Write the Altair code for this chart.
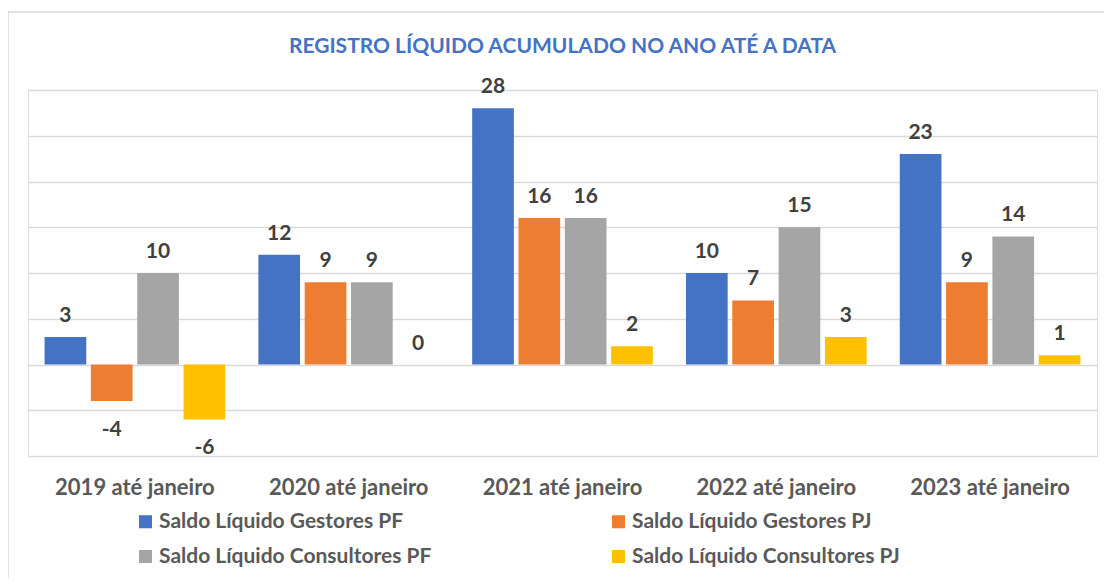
import altair as alt
import pandas as pd

titulo = "REGISTRO LÍQUIDO ACUMULADO NO ANO ATÉ A DATA"
categories = ["2019 até janeiro", "2020 até janeiro", "2021 até janeiro", "2022 até janeiro", "2023 até janeiro"]
series_names = ["Saldo Líquido Gestores PF", "Saldo Líquido Gestores PJ",
                "Saldo Líquido Consultores PF", "Saldo Líquido Consultores PJ"]
gestores_pf = [3, 12, 28, 10, 23]
gestores_pj = [-4, 9, 16, 7, 9]
consultores_pf = [10, 9, 16, 15, 14]
consultores_pj = [-6, 0, 2, 3, 1]
colors = ["#4472C4", "#ED7D31", "#A5A5A5", "#FFC000"]
grid_values = [-10, -5, 0, 5, 10, 15, 20, 25, 30]

rows = []
for s, vals in zip(series_names, [gestores_pf, gestores_pj, consultores_pf, consultores_pj]):
    for c, v in zip(categories, vals):
        rows.append({"categoria": c, "serie": s, "valor": v, "rotulo": str(v)})
df = pd.DataFrame(rows)

FONT = "Lato"

x_enc = alt.X("categoria:N", sort=categories,
              scale=alt.Scale(paddingInner=0.155, paddingOuter=0.0775),
              axis=alt.Axis(title=None, labelAngle=0, labelFontSize=22, labelFontWeight="bold",
                            labelColor="#595959", labelFont=FONT, ticks=False, domain=False,
                            labelPadding=21, grid=False))
xoff_enc = alt.XOffset("serie:N", sort=series_names,
                       scale=alt.Scale(paddingInner=0.1, paddingOuter=0))
y_enc = alt.Y("valor:Q", scale=alt.Scale(domain=[-10, 30], nice=False, zero=True),
              axis=alt.Axis(title=None, labels=False, ticks=False, domain=False,
                            values=grid_values, grid=True, gridColor="#D9D9D9", gridWidth=1.3))

base = alt.Chart(df)

bars = base.mark_bar().encode(
    x=x_enc,
    xOffset=xoff_enc,
    y=y_enc,
    color=alt.Color("serie:N", sort=series_names,
                    scale=alt.Scale(domain=series_names, range=colors),
                    legend=alt.Legend(title=None, orient="none", legendX=107, legendY=421,
                                      direction="horizontal",
                                      columns=2, columnPadding=176, rowPadding=13,
                                      symbolType="square", symbolSize=170, symbolStrokeWidth=0,
                                      labelFontSize=21, labelFontWeight="bold", labelColor="#595959",
                                      labelFont=FONT, labelOffset=3, labelLimit=400,
                                      gridAlign="all")),
)

pos_labels = base.transform_filter("datum.valor >= 0").mark_text(
    fontSize=21, fontWeight="bold", color="#404040", font=FONT, baseline="middle", dy=-21
).encode(x=alt.X("categoria:N", sort=categories), xOffset=alt.XOffset("serie:N", sort=series_names),
         y="valor:Q", text="rotulo:N")

neg_labels = base.transform_filter("datum.valor < 0").mark_text(
    fontSize=21, fontWeight="bold", color="#404040", font=FONT, baseline="middle", dy=29
).encode(x=alt.X("categoria:N", sort=categories), xOffset=alt.XOffset("serie:N", sort=series_names),
         y="valor:Q", text="rotulo:N")

frame = alt.Chart(pd.DataFrame({"k": [0]})).mark_rect(
    fill="transparent", stroke="#D9D9D9", strokeWidth=1.5
).encode(x=alt.value(-20), x2=alt.value(1200), y=alt.value(-78), y2=alt.value(700))

title_mark = alt.Chart(pd.DataFrame({"t": [titulo]})).mark_text(
    fontSize=21, fontWeight="bold", color="#4472C4", font=FONT, baseline="middle", align="center"
).encode(text="t:N", x=alt.value(534.5), y=alt.value(-43))

chart = alt.layer(frame, bars, pos_labels, neg_labels, title_mark).properties(
    width=1069, height=366,
    autosize=alt.AutoSizeParams(type="none"),
    padding={"left": 20, "top": 82, "right": 7, "bottom": 122},
).configure_view(stroke=None).configure(background="white")

chart.save("out.html", embed_options={"renderer": "svg", "actions": False})
